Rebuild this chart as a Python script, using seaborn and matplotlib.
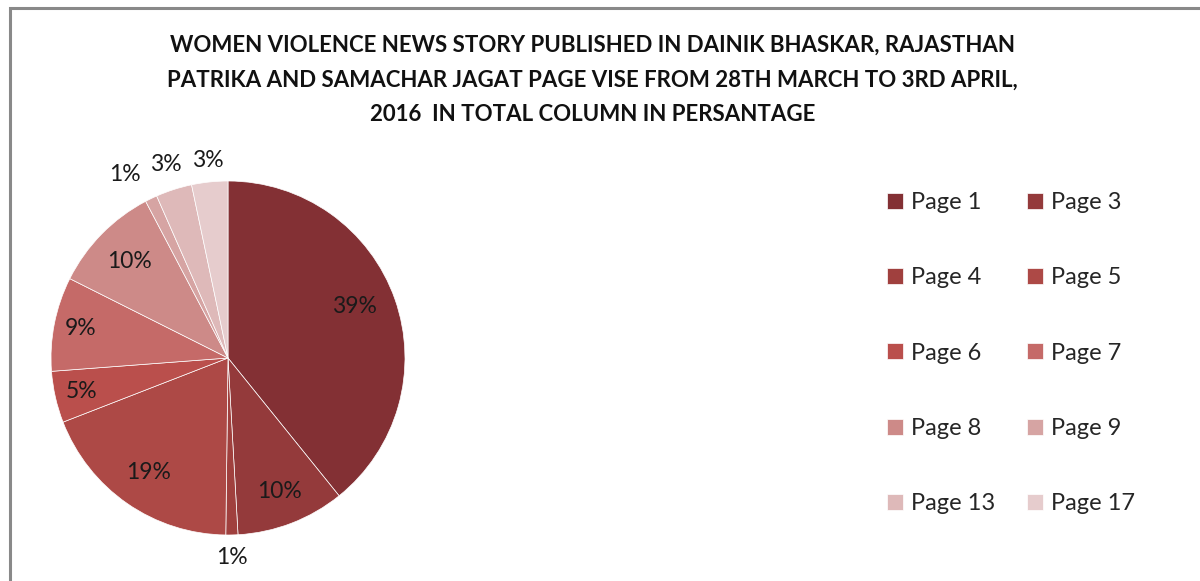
import matplotlib
matplotlib.use("Agg")
import matplotlib.pyplot as plt
import seaborn as sns
import numpy as np
from matplotlib.patches import Rectangle

# share of total column space per page (percent)
pages = ["Page 1", "Page 3", "Page 4", "Page 5", "Page 6",
         "Page 7", "Page 8", "Page 9", "Page 13", "Page 17"]
share = [39.2, 9.9, 1.1, 18.9, 4.7, 8.6, 9.9, 1.1, 3.3, 3.3]

colors = ["#833034", "#943A3B", "#A0403E", "#AD4946", "#BA4F4C",
          "#C56A68", "#CD8A88", "#D6A4A3", "#DEB9B9", "#E6CCCD"]

title = ("WOMEN VIOLENCE NEWS STORY PUBLISHED IN DAINIK BHASKAR, RAJASTHAN\n"
         "PATRIKA AND SAMACHAR JAGAT PAGE VISE FROM 28TH MARCH TO 3RD APRIL,\n"
         "2016  IN TOTAL COLUMN IN PERSANTAGE")

sns.set_theme(style="white")
plt.rcParams["font.family"] = ["Lato", "DejaVu Sans"]

W, H = 1200, 581
fig = plt.figure(figsize=(W / 100, H / 100), dpi=100)

# pie placed by pixel box: centre (228, 358), radius 177
cx, cy, r = 228, 358, 177
ax = fig.add_axes([(cx - r) / W, (H - cy - r) / H, 2 * r / W, 2 * r / H])
wedges, _ = ax.pie(share, colors=sns.color_palette(colors), startangle=90,
                   counterclock=False, radius=1,
                   wedgeprops=dict(edgecolor="white", linewidth=0.5))
ax.set_xlim(-1, 1)
ax.set_ylim(-1, 1)
ax.set_aspect("equal")
ax.axis("off")

# percent labels (Excel "best fit": big slices inside, thin ones outside)
label_r = [0.77, 0.81, 1.13, 0.79, 0.85, 0.85, 0.78, 1.19, 1.15, 1.12]
label_shift = [2.6, 0, 0, 0, 0, 0, 0, 3.7, 0, 0]
for w, v, lr, sh in zip(wedges, share, label_r, label_shift):
    ang = np.deg2rad((w.theta1 + w.theta2) / 2 + sh)
    ax.text(lr * np.cos(ang), lr * np.sin(ang), f"{round(v)}%",
            ha="center", va="center", fontsize=16.5, color="#1a1a1a")

fig.text(0.494, 1 - 35 / H, title, ha="center", va="top", fontsize=16,
         fontweight="bold", linespacing=1.8, color="#111111")

# legend filled row by row like the original
order = [0, 2, 4, 6, 8, 1, 3, 5, 7, 9]
leg = fig.legend([wedges[i] for i in order], [pages[i] for i in order],
                 ncol=2, loc="upper left", bbox_to_anchor=(887 / W, 1 - 192 / H),
                 frameon=False, fontsize=17, handlelength=0.68, handleheight=0.68,
                 handletextpad=0.34, columnspacing=1.33, labelspacing=2.3,
                 borderpad=0, borderaxespad=0)

# grey chart-area frame (left and top edges are visible)
fig.add_artist(Rectangle((9.5 / W, -0.1), 1.2, 1.1 - 8 / H, fill=False,
                         edgecolor="#898989", linewidth=2.2,
                         transform=fig.transFigure))

fig.savefig("out.png", dpi=100)
